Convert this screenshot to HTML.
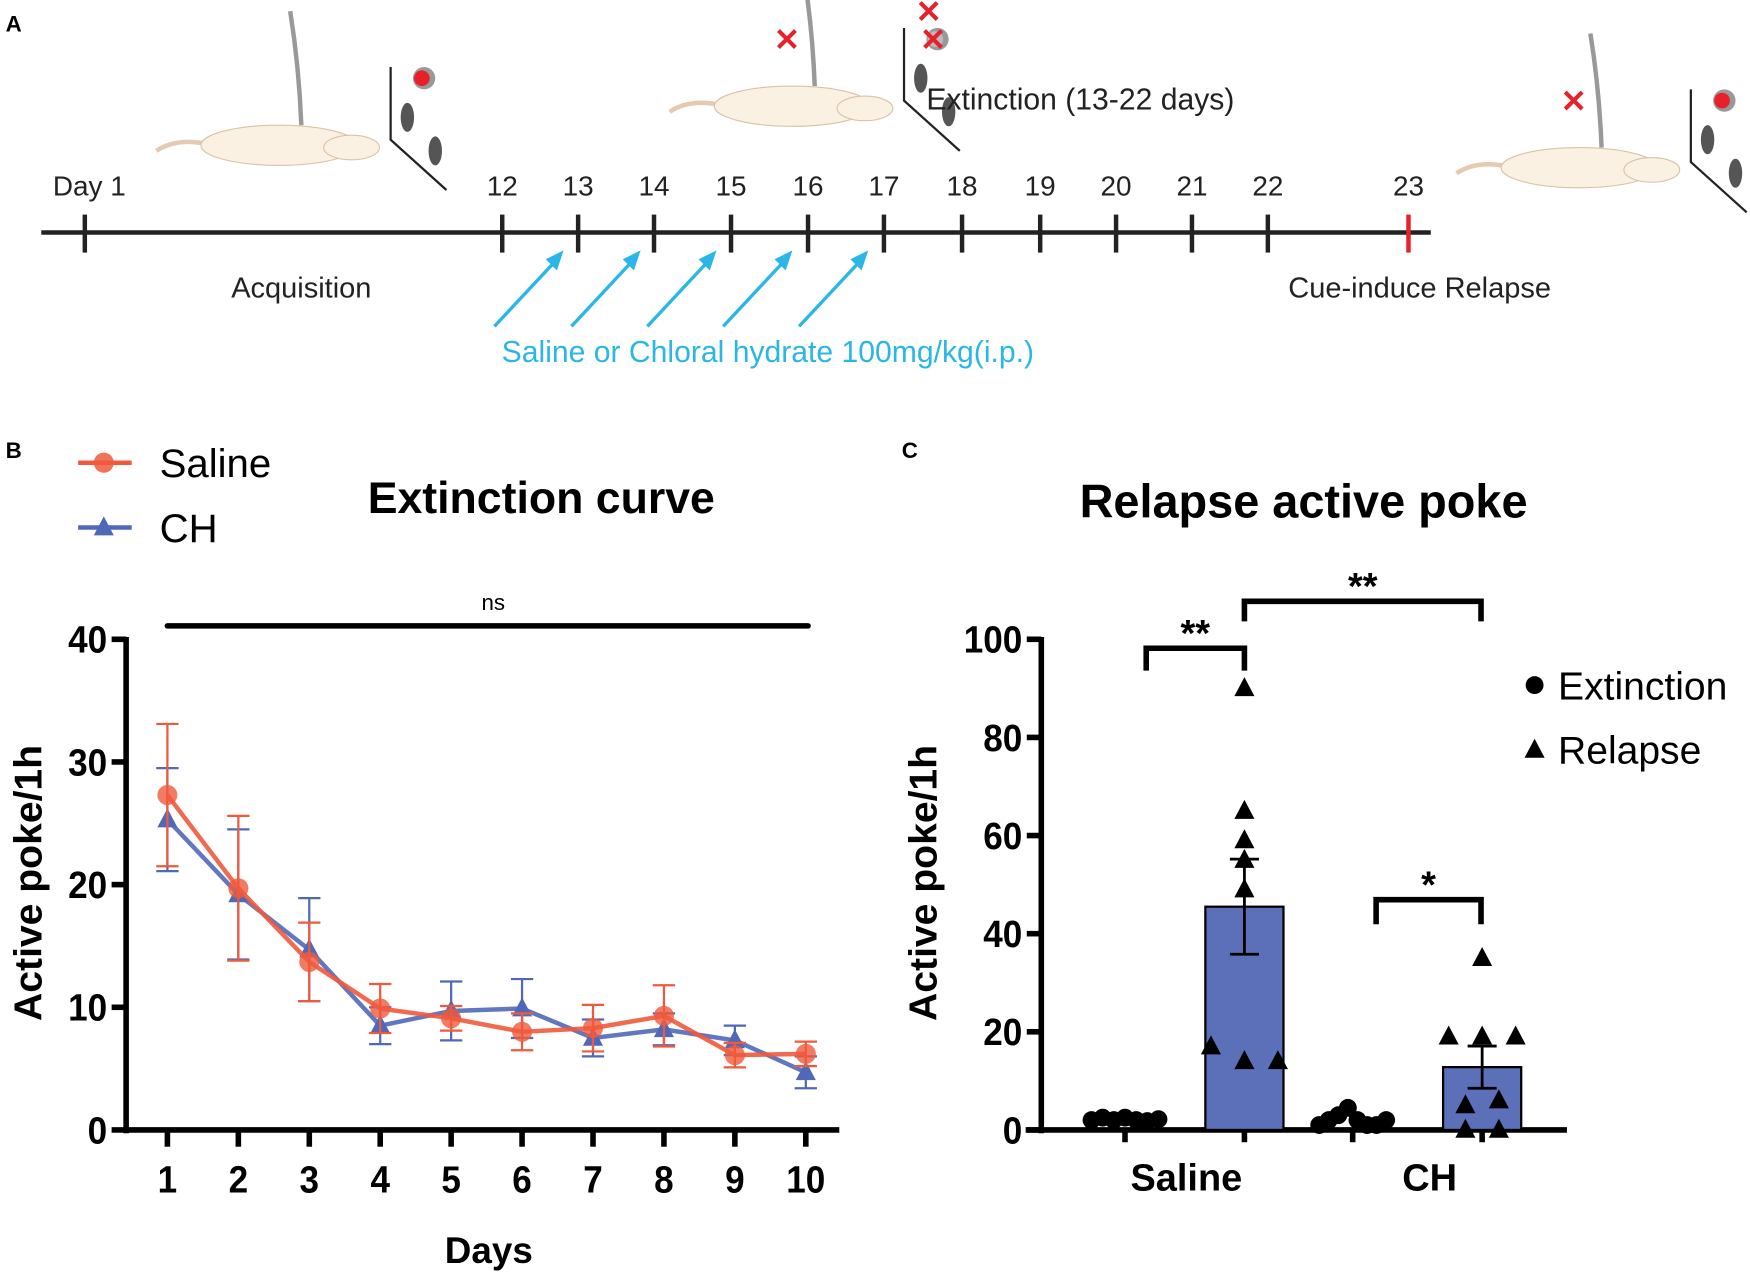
<!DOCTYPE html>
<html><head><meta charset="utf-8"><style>
html,body{margin:0;padding:0;background:#fff}
svg{display:block}
text{font-family:"Liberation Sans",sans-serif}
.n{font-family:"Liberation Sans",sans-serif;font-weight:bold}
</style></head><body>
<svg id="fig" width="1750" height="1273" viewBox="0 0 1568 1139" preserveAspectRatio="none" xmlns="http://www.w3.org/2000/svg">
<g id="panelA">
<text x="5" y="28" font-size="20" font-weight="bold">A</text>
<g id="rats"></g>
<line x1="37" y1="208" x2="1282" y2="208" stroke="#222" stroke-width="4"/>
<g id="ticksA"></g>
<text x="270" y="266" font-size="26" text-anchor="middle" fill="#222">Acquisition</text>
<text x="1272" y="266" font-size="26" text-anchor="middle" fill="#222">Cue-induce Relapse</text>
<text x="688" y="324" font-size="27" text-anchor="middle" fill="#2bb6e8">Saline or Chloral hydrate 100mg/kg(i.p.)</text>
<text x="830" y="98" font-size="27" fill="#222">Extinction (13-22 days)</text>
<g id="arrows"></g>
</g>
<g id="panelB">
<text x="5" y="410" font-size="20" font-weight="bold">B</text>
<text x="485" y="459" font-size="40" font-weight="bold" text-anchor="middle">Extinction curve</text>
<g><line x1="70" y1="414" x2="118" y2="414" stroke="#f05a3c" stroke-width="4"/><circle cx="93" cy="414" r="9" fill="#f05a3c" opacity="0.85"/><text x="143" y="427" font-size="36">Saline</text></g>
<g><line x1="70" y1="472" x2="118" y2="472" stroke="#5068b8" stroke-width="4"/><polygon points="93,462 102,479 84,479" fill="#5068b8"/><text x="143" y="485" font-size="36">CH</text></g>
<g id="chartB"></g>
</g>
<g id="panelC">
<text x="808" y="410" font-size="20" font-weight="bold">C</text>
<text x="1168" y="463" font-size="42" font-weight="bold" text-anchor="middle">Relapse active poke</text>
<g><circle cx="1375" cy="613" r="8"/><text x="1396" y="626" font-size="35">Extinction</text></g>
<g><polygon points="1375,661 1384,678 1366,678"/><text x="1396" y="683" font-size="35">Relapse</text></g>
<g id="chartC"></g>
</g>
</svg>
<script>
// ---- Panel A data ----
const dayLabels=["Day 1","12","13","14","15","16","17","18","19","20","21","22","23"];
// ---- Panel B data ----
const days=[1,2,3,4,5,6,7,8,9,10];
const salineMean=[27.3,19.7,13.7,9.9,9.1,8.0,8.3,9.3,6.1,6.2];
const salineSem=[5.8,5.9,3.2,2.0,1.0,1.5,1.9,2.5,1.0,1.0];
const chMean=[25.3,19.2,14.7,8.5,9.7,9.9,7.5,8.2,7.3,4.7];
const chSem=[4.2,5.3,4.2,1.5,2.4,2.4,1.5,1.3,1.2,1.3];
const yTicksB=[0,10,20,30,40];
// ---- Panel C data ----
const groups=["Saline","CH"];
const relapseMean=[45.5,12.8];
const relapseSem=[9.7,4.3];
const salineExt=[2,2.5,2,2.5,2,1.8,2.2];
const salineRel=[90,65,59,55,49,17,14,14];
const chExt=[1,2,3,4.5,2,1,1,2];
const chRel=[35,19,19,19,6,5,0,0];
const yTicksC=[0,20,40,60,80,100];

const NS="http://www.w3.org/2000/svg";
function mk(p,tag,at,txt){const e=document.createElementNS(NS,tag);for(const k in at)e.setAttribute(k,at[k]);if(txt!==undefined)e.textContent=txt;p.appendChild(e);return e;}
function narrow(t,s){t.setAttribute('textLength',String(s).length*17.5);t.setAttribute('lengthAdjust','spacingAndGlyphs');}

// Panel A
const tA=document.getElementById('ticksA');
const tickX=[76,450,518,586,655,724,792,862,932,1000,1068,1136,1262];
dayLabels.forEach((l,i)=>{
  const ln=mk(tA,'line',{x1:tickX[i],x2:tickX[i],y1:192,y2:226,stroke:i==12?'#e8202a':'#222','stroke-width':4});
  
  
  const t=mk(tA,'text',{x:i==0?80:tickX[i],y:175,'font-size':25,'text-anchor':'middle',fill:'#222'},l);
  
  
});
const ar=document.getElementById('arrows');
[505,574,642,710,778].forEach(x=>{
  const g=mk(ar,'g',{});
  
  
  mk(g,'line',{x1:x-62,y1:292,x2:x-4,y2:230,stroke:'#2bb6e8','stroke-width':3});
  mk(g,'polygon',{points:`${x},${224} ${x-16},${232} ${x-6},${242}`,fill:'#2bb6e8'});
});
const rats=document.getElementById('rats');
function rat(x,y,cross,crossBox){
  const g=mk(rats,'g',{});
  
  
  mk(g,'path',{d:`M${x},${y+5} Q${x+20},${y-8} ${x+50},${y}`,stroke:'#e5c9b0','stroke-width':4,fill:'none'});
  mk(g,'ellipse',{cx:x+110,cy:y,rx:70,ry:18,fill:'#fbf1e2',stroke:'#d9c3a8'});
  mk(g,'ellipse',{cx:x+175,cy:y+2,rx:25,ry:11,fill:'#fbf1e2',stroke:'#d9c3a8'});
  mk(g,'path',{d:`M${x+130},${y-18} Q${x+128},${y-70} ${x+120},${y-120}`,stroke:'#999','stroke-width':4,fill:'none'});
  mk(g,'path',{d:`M${x+210},${y-70} L${x+210},${y-5} L${x+260},${y+40}`,stroke:'#222','stroke-width':2,fill:'none'});
  mk(g,'ellipse',{cx:x+225,cy:y-25,rx:6,ry:13,fill:'#555'});
  mk(g,'ellipse',{cx:x+250,cy:y+5,rx:6,ry:13,fill:'#555'});
  mk(g,'circle',{cx:x+240,cy:y-60,r:10,fill:'#999'});
  mk(g,'circle',{cx:x+238,cy:y-60,r:7,fill:crossBox?'#bbb':'#e8202a'});
  if(cross){mk(g,'text',{x:x+105,y:y-50,'font-size':28,fill:'#e8202a','font-weight':'bold','text-anchor':'middle'},'✕');}
  if(crossBox){mk(g,'text',{x:x+236,y:y-50,'font-size':28,fill:'#e8202a','font-weight':'bold','text-anchor':'middle'},'✕');
    mk(g,'text',{x:x+232,y:y-75,'font-size':28,fill:'#e8202a','font-weight':'bold','text-anchor':'middle'},'✕');}
}
rat(140,130,false,false);rat(600,95,true,true);rat(1305,150,true,false);

// Panel B
const cB=document.getElementById('chartB');
const bx=d=>150+(d-1)*(722-150)/9;
const by=v=>1011-v*(1011-572)/40;
mk(cB,'line',{x1:113,y1:570,x2:113,y2:1014,stroke:'#000','stroke-width':5});
mk(cB,'line',{x1:111,y1:1011,x2:752,y2:1011,stroke:'#000','stroke-width':5});
yTicksB.forEach(v=>{
  mk(cB,'line',{x1:100,x2:113,y1:by(v),y2:by(v),stroke:'#000','stroke-width':5});
  const t=mk(cB,'text',{x:96,y:by(v)+12,'font-size':34,'text-anchor':'end',class:'n'},v);
  narrow(t,v);
  
  
});
days.forEach(d=>{
  mk(cB,'line',{x1:bx(d),x2:bx(d),y1:1011,y2:1026,stroke:'#000','stroke-width':5});
  const t=mk(cB,'text',{x:bx(d),y:1067,'font-size':34,'text-anchor':'middle',class:'n'},d);
  narrow(t,d);
  
  
});
mk(cB,'text',{x:438,y:1130,'font-size':33,'font-weight':'bold','text-anchor':'middle'},'Days');
mk(cB,'text',{x:0,y:0,'font-size':35,'font-weight':'bold','text-anchor':'middle',transform:'translate(37,790) rotate(-90)'},'Active poke/1h');
mk(cB,'line',{x1:150,x2:724,y1:560,y2:560,stroke:'#000','stroke-width':5,'stroke-linecap':'round'});
mk(cB,'text',{x:442,y:546,'font-size':20,'text-anchor':'middle'},'ns');
function series(mean,sem,col,shape,name){
  const g=mk(cB,'g',{});
  
  
  days.forEach((d,i)=>{
    const x=bx(d);
    mk(g,'line',{x1:x,x2:x,y1:by(mean[i]-sem[i]),y2:by(mean[i]+sem[i]),stroke:col,'stroke-width':2});
    [mean[i]-sem[i],mean[i]+sem[i]].forEach(v=>mk(g,'line',{x1:x-10,x2:x+10,y1:by(v),y2:by(v),stroke:col,'stroke-width':2}));
  });
  mk(g,'polyline',{points:days.map((d,i)=>bx(d)+','+by(mean[i])).join(' '),fill:'none',stroke:col,'stroke-width':4,opacity:0.9});
  days.forEach((d,i)=>{
    const x=bx(d),y=by(mean[i]);
    const m=shape=='c'?mk(g,'circle',{cx:x,cy:y,r:9,fill:col,opacity:0.8}):mk(g,'polygon',{points:`${x},${y-10} ${x+9},${y+7} ${x-9},${y+7}`,fill:col});
    
    
  });
}
series(chMean,chSem,'#5068b8','t','ch-series');
series(salineMean,salineSem,'#f05a3c','c','saline-series');

// Panel C
const cC=document.getElementById('chartC');
const cy=v=>1011-v*(1011-572)/100;
const extX=[1008,1212], relX=[1115,1328];
const AX=933;
mk(cC,'line',{x1:AX,y1:570,x2:AX,y2:1014,stroke:'#000','stroke-width':5});
mk(cC,'line',{x1:919,y1:1011,x2:1404,y2:1011,stroke:'#000','stroke-width':5});
yTicksC.forEach(v=>{
  mk(cC,'line',{x1:AX-13,x2:AX,y1:cy(v),y2:cy(v),stroke:'#000','stroke-width':5});
  const t=mk(cC,'text',{x:AX-17,y:cy(v)+12,'font-size':34,'text-anchor':'end',class:'n'},v);
  narrow(t,v);
  
  
});
[extX[0],relX[0],extX[1],relX[1]].forEach(x=>mk(cC,'line',{x1:x,x2:x,y1:1011,y2:1022,stroke:'#000','stroke-width':5}));
const gx=[1063,1281];
groups.forEach((gname,i)=>{
  const t=mk(cC,'text',{x:gx[i],y:1065,'font-size':34,'font-weight':'bold','text-anchor':'middle'},gname);
  
  
});
mk(cC,'text',{x:0,y:0,'font-size':35,'font-weight':'bold','text-anchor':'middle',transform:'translate(839,790) rotate(-90)'},'Active poke/1h');
groups.forEach((gname,i)=>{
  const b=mk(cC,'rect',{x:relX[i]-35,y:cy(relapseMean[i]),width:70,height:cy(0)-cy(relapseMean[i]),fill:'#5b70b8',stroke:'#000','stroke-width':2});
  
  
  const lo=cy(relapseMean[i]-relapseSem[i]),hi=cy(relapseMean[i]+relapseSem[i]);
  mk(cC,'line',{x1:relX[i],x2:relX[i],y1:lo,y2:hi,stroke:'#000','stroke-width':2.5});
  mk(cC,'line',{x1:relX[i]-13,x2:relX[i]+13,y1:lo,y2:lo,stroke:'#000','stroke-width':2.5});
  mk(cC,'line',{x1:relX[i]-13,x2:relX[i]+13,y1:hi,y2:hi,stroke:'#000','stroke-width':2.5});
});
function dots(vals,cx,name){
  const n=vals.length;
  vals.forEach((v,j)=>{
    const x=cx-30+60*j/(n-1);
    const c=mk(cC,'circle',{cx:x,cy:cy(v),r:8,fill:'#000'});
    
    
  });
}
function tris(vals,cx,name){
  vals.forEach((v,j)=>{
    const xs=name=='saline-relapse-point'?[0,0,0,0,0,-30,0,30][j]:[0,-30,0,30,15,-15,-15,15][j];
    const px=cx+xs,py=cy(v);
    const t=mk(cC,'polygon',{points:`${px},${py-10} ${px+9},${py+7} ${px-9},${py+7}`,fill:'#000'});
    
    
  });
}
dots(salineExt,extX[0],'saline-extinction-point');
dots(chExt,extX[1],'ch-extinction-point');
tris(salineRel,relX[0],'saline-relapse-point');
tris(chRel,relX[1],'ch-relapse-point');
function bracket(x1,x2,y,drop,label,name){
  const g=mk(cC,'g',{});
  
  
  mk(g,'path',{d:`M${x1},${y+drop} L${x1},${y} L${x2},${y} L${x2},${y+drop}`,fill:'none',stroke:'#000','stroke-width':5});
  mk(g,'text',{x:(x1+x2)/2,y:y-2,'font-size':34,'font-weight':'bold','text-anchor':'middle'},label);
}
bracket(1027,1115,580,20,'**','sig-bracket-saline');
bracket(1115,1327,538,18,'**','sig-bracket-relapse');
bracket(1233,1327,805,22,'*','sig-bracket-ch');
</script>
</body></html>
